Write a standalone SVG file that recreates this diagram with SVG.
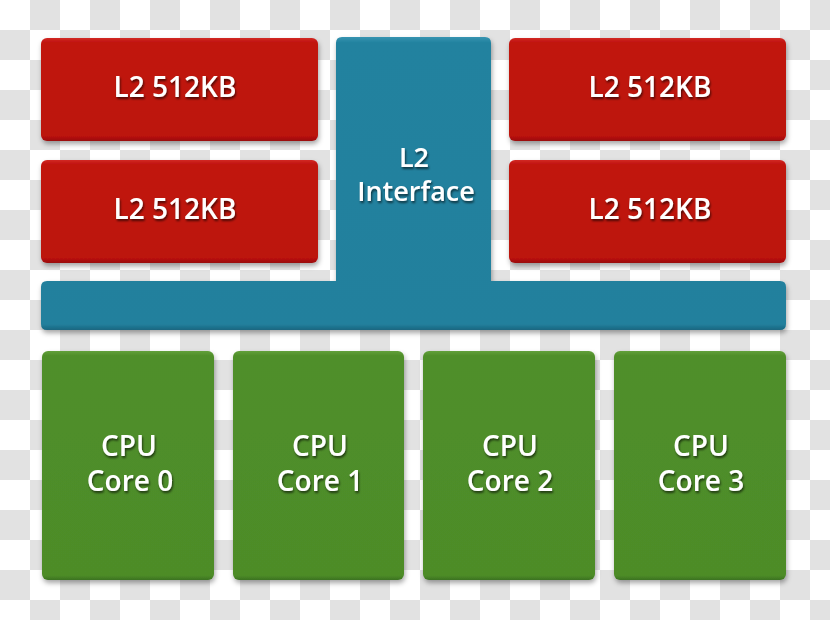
<svg xmlns="http://www.w3.org/2000/svg" width="830" height="620" viewBox="0 0 830 620">
  <defs>
    <pattern id="checker" x="0" y="0" width="60" height="60" patternUnits="userSpaceOnUse">
      <rect width="60" height="60" fill="#ffffff"/>
      <rect x="30" y="0" width="30" height="30" fill="#e2e2e2"/>
      <rect x="0" y="30" width="30" height="30" fill="#e2e2e2"/>
    </pattern>
    <filter id="shadow" x="-10%" y="-10%" width="120%" height="130%">
      <feDropShadow dx="1" dy="3" stdDeviation="2.5" flood-color="#000" flood-opacity="0.35"/>
    </filter>
    <filter id="tshadow" x="-10%" y="-20%" width="120%" height="150%">
      <feDropShadow dx="1" dy="2" stdDeviation="1" flood-color="#000" flood-opacity="0.6"/>
    </filter>
    <linearGradient id="gRed" x1="0" y1="0" x2="0" y2="1">
      <stop offset="0" stop-color="#d22a26"/>
      <stop offset="0.04" stop-color="#c11410"/>
      <stop offset="0.95" stop-color="#bc120f"/>
      <stop offset="1" stop-color="#9a0d0b"/>
    </linearGradient>
    <linearGradient id="gGreen" x1="0" y1="0" x2="0" y2="1">
      <stop offset="0" stop-color="#62a03b"/>
      <stop offset="0.02" stop-color="#508f2a"/>
      <stop offset="0.98" stop-color="#4d8c28"/>
      <stop offset="1" stop-color="#3c7220"/>
    </linearGradient>
    <linearGradient id="gBlue" x1="0" y1="0" x2="0" y2="1">
      <stop offset="0" stop-color="#3794b1"/>
      <stop offset="0.02" stop-color="#23829f"/>
      <stop offset="0.98" stop-color="#22809d"/>
      <stop offset="1" stop-color="#1a6680"/>
    </linearGradient>
  </defs>
  <style>
    .red { fill: url(#gRed); filter: url(#shadow); }
    .green { fill: url(#gGreen); filter: url(#shadow); }
    .blue { fill: url(#gBlue); filter: url(#shadow); }
    .lbl { font-family: "Open Sans", "Noto Sans", "DejaVu Sans", sans-serif; font-weight: 600; fill: #ffffff; text-anchor: middle; filter: url(#tshadow); }
    .big { font-size: 28px; }
    .mid { font-size: 27px; }
  </style>
  <rect width="830" height="620" fill="url(#checker)"/>

  <g id="connectors"></g>

  <g id="l2-interface">
    <path class="blue" d="M 342 37 H 485 Q 491 37 491 43 V 281 H 780 Q 786 281 786 287 V 324 Q 786 330 780 330 H 47 Q 41 330 41 324 V 287 Q 41 281 47 281 H 336 V 43 Q 336 37 342 37 Z"/>
    <text class="lbl mid" x="414" y="167">L2</text>
    <text class="lbl mid" x="416" y="201">Interface</text>
  </g>

  <g id="l2-tl">
    <rect class="red" x="41" y="38" width="277" height="103" rx="6"/>
    <text class="lbl big" x="175" y="97">L2 512KB</text>
  </g>
  <g id="l2-bl">
    <rect class="red" x="41" y="160" width="277" height="103" rx="6"/>
    <text class="lbl big" x="175" y="219">L2 512KB</text>
  </g>
  <g id="l2-tr">
    <rect class="red" x="509" y="38" width="277" height="103" rx="6"/>
    <text class="lbl big" x="650" y="97">L2 512KB</text>
  </g>
  <g id="l2-br">
    <rect class="red" x="509" y="160" width="277" height="103" rx="6"/>
    <text class="lbl big" x="650" y="219">L2 512KB</text>
  </g>

  <g id="core0">
    <rect class="green" x="42" y="351" width="172" height="229" rx="6"/>
    <text class="lbl big" x="129" y="456">CPU</text>
    <text class="lbl big" x="130" y="491">Core 0</text>
  </g>
  <g id="core1">
    <rect class="green" x="233" y="351" width="171" height="229" rx="6"/>
    <text class="lbl big" x="320" y="456">CPU</text>
    <text class="lbl big" x="320" y="491">Core 1</text>
  </g>
  <g id="core2">
    <rect class="green" x="423" y="351" width="172" height="229" rx="6"/>
    <text class="lbl big" x="510" y="456">CPU</text>
    <text class="lbl big" x="510" y="491">Core 2</text>
  </g>
  <g id="core3">
    <rect class="green" x="614" y="351" width="172" height="229" rx="6"/>
    <text class="lbl big" x="701" y="456">CPU</text>
    <text class="lbl big" x="701" y="491">Core 3</text>
  </g>
</svg>
